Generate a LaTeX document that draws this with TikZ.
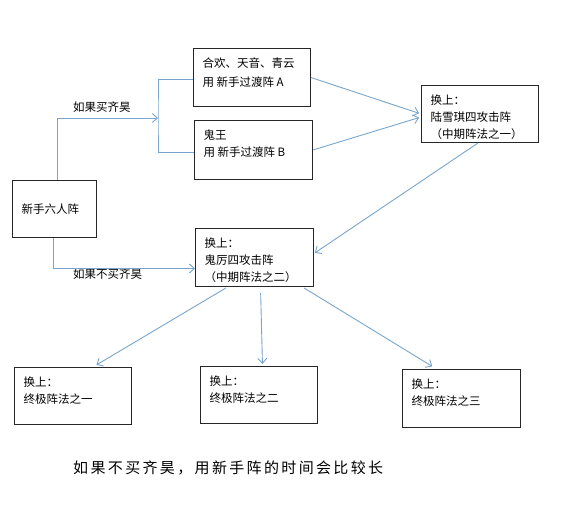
\documentclass[tikz,border=0pt]{standalone}
\usepackage{fontspec}
\newfontfamily\cjk{Noto Sans CJK SC}
\usetikzlibrary{arrows.meta}
\definecolor{lnk}{RGB}{120,165,205}
\newcommand\tb[3]{\parbox[t][#2][t]{#1}{\vspace*{9pt}\raggedright #3}}
\begin{document}
\begin{tikzpicture}[x=1pt,y=-1pt,
 box/.style={draw=black!85, line width=1pt, anchor=north west, inner xsep=9pt, inner ysep=0pt, font=\cjk\fontsize{11.5}{17}\selectfont},
 arr/.style={draw=lnk, line width=0.9pt, -{Straight Barb[length=5pt,width=9pt]}},
 ln/.style={draw=lnk, line width=0.9pt},
 lbl/.style={font=\cjk\fontsize{11.5}{14}\selectfont, inner sep=0pt, anchor=west}]
\useasboundingbox (0,0) rectangle (580,510);
\node[box, text width=66pt, minimum height=57pt, align=left] (S) at (12,180) {\raisebox{-2pt}{新手六人阵}};
\node[box] (A) at (193,48) {\tb{99pt}{58pt}{合欢、天音、青云\\[2pt]用 新手过渡阵 A}};
\node[box] (B) at (194,120) {\tb{100pt}{59pt}{鬼王\\用 新手过渡阵 B}};
\node[box] (L) at (421,85) {\tb{99pt}{57pt}{换上：\\陆雪琪四攻击阵\\（中期阵法之一）}};
\node[box] (G) at (195,228) {\tb{100pt}{58pt}{换上：\\鬼厉四攻击阵\\（中期阵法之二）}};
\node[box] (E1) at (14,367) {\tb{99pt}{57pt}{换上：\\终极阵法之一}};
\node[box] (E2) at (200,366) {\tb{99pt}{57pt}{换上：\\终极阵法之二}};
\node[box] (E3) at (402,369) {\tb{100pt}{58pt}{换上：\\终极阵法之三}};
\node[lbl] (l1) at (73,107) {如果买齐昊};
\node[lbl] (l2) at (73,274) {如果不买齐昊};
\node[font=\cjk\fontsize{15}{18}\selectfont, anchor=west, inner sep=0pt] (N) at (73,468)
 {\makebox[310pt]{如\hfill 果\hfill 不\hfill 买\hfill 齐\hfill 昊\hfill ，\hfill 用\hfill 新\hfill 手\hfill 阵\hfill 的\hfill 时\hfill 间\hfill 会\hfill 比\hfill 较\hfill 长}};
\coordinate (br) at (158,118);
\draw[arr] ([xshift=3pt]S.north) |- (br);
\draw[ln] ([yshift=-2pt]A.west) -| (br) |- ([yshift=-2.5pt]B.west);
\draw[arr] ([xshift=-1pt]S.south) |- ([yshift=-11pt]G.west);
\draw[arr, shorten >=2pt] (A.east) -- (L.west);
\draw[arr, shorten >=2pt] (B.east) -- ([yshift=-3pt]L.west);
\draw[arr, shorten >=1pt] ([xshift=-2pt]L.south) -- ([yshift=4pt]G.east);
\draw[arr, shorten <=2pt, shorten >=4pt] ([xshift=-27pt]G.south) -- ([xshift=20pt]E1.north);
\draw[arr, shorten <=6pt, shorten >=2pt] ([xshift=6pt]G.south) -- ([xshift=3.5pt]E2.north);
\draw[arr, shorten <=2pt, shorten >=5pt] ([xshift=48pt]G.south) -- ([xshift=-25pt]E3.north);
\end{tikzpicture}
\end{document}
